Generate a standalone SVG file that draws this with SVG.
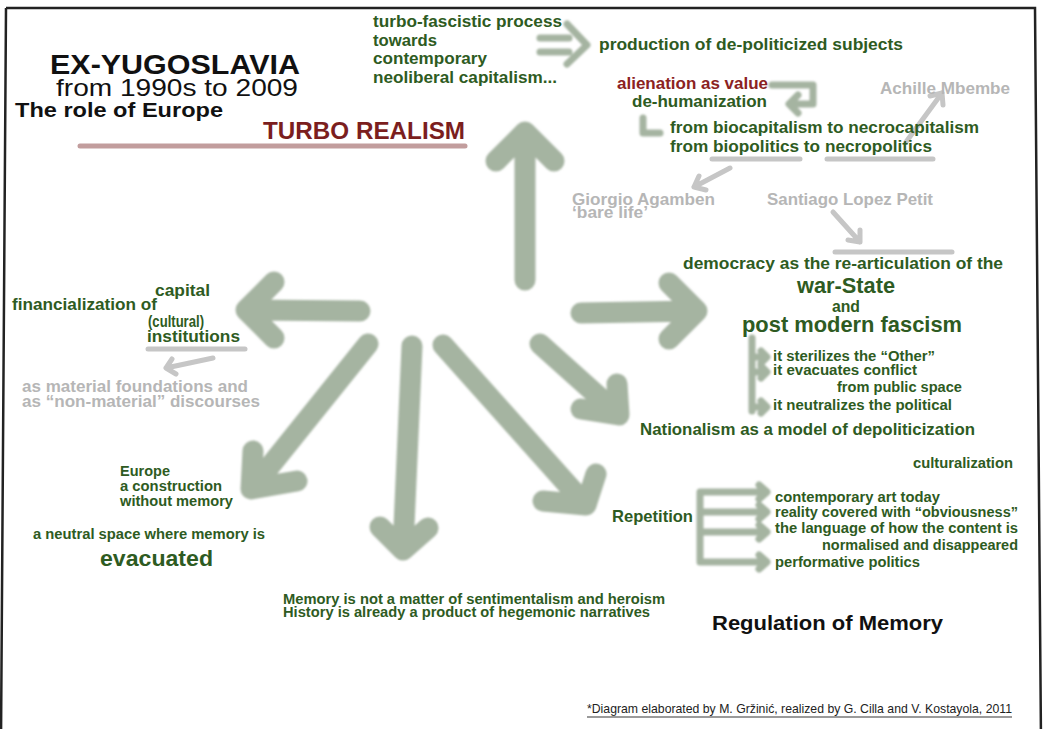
<svg xmlns="http://www.w3.org/2000/svg" width="1045" height="729" viewBox="0 0 1045 729">
<style>
  text { font-family: "Liberation Sans", Arial, Helvetica, sans-serif; }
  .g { font-weight: bold; fill: #2e5b22; font-size: 17px; }
  .gs { font-weight: bold; fill: #2e5b22; font-size: 14.5px; }
  .gy { font-weight: bold; fill: #b6b6b6; font-size: 16px; }
  .blk { fill: #111111; }
  .big { fill: none; stroke: #a5b4a1; stroke-width: 21; stroke-linecap: round; stroke-linejoin: round; }
  .mid { fill: none; stroke: #a5b4a1; stroke-width: 7; stroke-linecap: round; stroke-linejoin: round; }
  .thin { fill: none; stroke: #c6c6c6; stroke-width: 5; stroke-linecap: round; stroke-linejoin: round; }
</style>
<defs>
  <filter id="soft" x="-5%" y="-5%" width="110%" height="110%">
    <feGaussianBlur stdDeviation="0.9"/>
  </filter>
</defs>
<rect width="1045" height="729" fill="#ffffff"/>
<path d="M6,8 L1035,8 L1041,740 M6,8 L1,740" fill="none" stroke="#222" stroke-width="2.5"/>

<g id="connectors">
  <g filter="url(#soft)">
    <path class="big" d="M525,280 L525,132 M496,161 L525,132 L554,161"/>
    <path class="big" d="M360,311 L246,310 M274,282 L246,310 L274,338"/>
    <path class="big" d="M581,313 L696,311 M669,283 L697,311 L669,339"/>
    <path class="big" d="M540,344 L617,413 M617,384 L619,415 L581,409"/>
    <path class="big" d="M443,345 L584,503 M596,474 L586,505 L543,501"/>
    <path class="big" d="M412,346 L403,549 M380,527 L403,550 L428,528"/>
    <path class="big" d="M368,344 L254,486 M253,451 L251,489 L297,481"/>
    <path class="mid" stroke-width="8" d="M540,38 L569,38 M540,52 L569,52 M567,24 L587,45 L567,64"/>
    <path class="mid" d="M772,85 L813,85 L813,104 L790,104 M798,95 L789,104 L798,113"/>
    <path class="mid" d="M643,118 L643,133 L660,133"/>
    <path class="mid" stroke-width="6" d="M752,338 L752,411 M752,357 L764,357 M752,372 L764,372 M752,407 L764,407 M761,351 L767,357 L761,363 M761,366 L767,372 L761,378 M761,401 L767,407 L761,413"/>
    <path class="mid" d="M700,492 L700,562 L762,562 M700,492 L762,492 M700,512 L762,512 M700,532 L762,532 M759,485 L767,492 L759,499 M759,505 L767,512 L759,519 M759,525 L767,532 L759,539 M759,555 L767,562 L759,569"/>
  </g>
  <path d="M80,146 L465,146" fill="none" stroke="#c29d9d" stroke-width="5" stroke-linecap="round"/>
  <path class="thin" d="M712,159 L800,159 M827,159 L933,159"/>
  <path class="thin" d="M906,142 L942,93 M930,96 L942,93 L943,105"/>
  <path class="thin" d="M730,168 L694,187 M699,176 L694,187 L706,190"/>
  <path class="thin" d="M833,212 L860,242 M860,230 L860,242 L848,240"/>
  <path class="thin" d="M835,252 L952,252"/>
  <path class="thin" d="M148,349 L245,349"/>
  <path class="thin" d="M213,358 L166,368 M172,359 L166,368 L176,374"/>
  <path d="M587,717 L1012,717" fill="none" stroke="#9a9a9a" stroke-width="2"/>
</g>

<g id="title">
  <text class="blk" x="50" y="74" font-size="28" font-weight="bold" textLength="250" lengthAdjust="spacingAndGlyphs">EX-YUGOSLAVIA</text>
  <text class="blk" x="56" y="96" font-size="24" textLength="242" lengthAdjust="spacingAndGlyphs">from 1990s to 2009</text>
  <text class="blk" x="15" y="117" font-size="21" font-weight="bold" textLength="208" lengthAdjust="spacingAndGlyphs">The role of Europe</text>
</g>
<g id="turbo-realism">
  <text x="263" y="139" font-size="23" font-weight="bold" fill="#7b1e1e" textLength="202" lengthAdjust="spacingAndGlyphs">TURBO REALISM</text>
</g>

<g id="turbo-fascistic">
  <text class="g" x="373" y="27" textLength="189" lengthAdjust="spacingAndGlyphs">turbo-fascistic process</text>
  <text class="g" x="373" y="46" textLength="64" lengthAdjust="spacingAndGlyphs">towards</text>
  <text class="g" x="373" y="64" textLength="114" lengthAdjust="spacingAndGlyphs">contemporary</text>
  <text class="g" x="373" y="83" textLength="184" lengthAdjust="spacingAndGlyphs">neoliberal capitalism...</text>
</g>
<g id="production">
  <text class="g" x="599" y="50" textLength="304" lengthAdjust="spacingAndGlyphs">production of de-politicized subjects</text>
</g>
<g id="alienation">
  <text class="g" x="617" y="89" style="fill:#8b2222" textLength="151" lengthAdjust="spacingAndGlyphs">alienation as value</text>
  <text class="g" x="632" y="107" textLength="135" lengthAdjust="spacingAndGlyphs">de-humanization</text>
</g>
<g id="necro">
  <text class="g" x="670" y="133" textLength="309" lengthAdjust="spacingAndGlyphs">from biocapitalism to necrocapitalism</text>
  <text class="g" x="670" y="152" textLength="262" lengthAdjust="spacingAndGlyphs">from biopolitics to necropolitics</text>
</g>
<g id="mbembe">
  <text class="gy" x="880" y="94" style="font-size:17px" textLength="130" lengthAdjust="spacingAndGlyphs">Achille Mbembe</text>
</g>
<g id="agamben">
  <text class="gy" x="572" y="205" textLength="143" lengthAdjust="spacingAndGlyphs">Giorgio Agamben</text>
  <text class="gy" x="572" y="218" textLength="76" lengthAdjust="spacingAndGlyphs">‘bare life’</text>
</g>
<g id="petit">
  <text class="gy" x="767" y="205" style="font-size:17px" textLength="166" lengthAdjust="spacingAndGlyphs">Santiago Lopez Petit</text>
</g>
<g id="democracy">
  <text class="g" x="683" y="269" textLength="320" lengthAdjust="spacingAndGlyphs">democracy as the re-articulation of the</text>
  <text class="g" x="797" y="293" style="font-size:22px" textLength="98" lengthAdjust="spacingAndGlyphs">war-State</text>
  <text class="g" x="832" y="312" style="font-size:16px" textLength="28" lengthAdjust="spacingAndGlyphs">and</text>
  <text class="g" x="742" y="332" style="font-size:22px" textLength="220" lengthAdjust="spacingAndGlyphs">post modern fascism</text>
</g>
<g id="fascism-effects">
  <text class="gs" x="773" y="361" textLength="162" lengthAdjust="spacingAndGlyphs">it sterilizes the “Other”</text>
  <text class="gs" x="773" y="375" textLength="144" lengthAdjust="spacingAndGlyphs">it evacuates conflict</text>
  <text class="gs" x="837" y="392" textLength="125" lengthAdjust="spacingAndGlyphs">from public space</text>
  <text class="gs" x="773" y="410" textLength="179" lengthAdjust="spacingAndGlyphs">it neutralizes the political</text>
</g>
<g id="nationalism">
  <text class="g" x="640" y="435" textLength="335" lengthAdjust="spacingAndGlyphs">Nationalism as a model of depoliticization</text>
</g>
<g id="culturalization">
  <text class="gs" x="913" y="468" textLength="100" lengthAdjust="spacingAndGlyphs">culturalization</text>
</g>
<g id="repetition">
  <text class="g" x="612" y="522" style="font-size:16.5px" textLength="81" lengthAdjust="spacingAndGlyphs">Repetition</text>
</g>
<g id="repetition-items">
  <text class="gs" x="775" y="502" textLength="165" lengthAdjust="spacingAndGlyphs">contemporary art today</text>
  <text class="gs" x="775" y="517" textLength="243" lengthAdjust="spacingAndGlyphs">reality covered with “obviousness”</text>
  <text class="gs" x="775" y="533" textLength="243" lengthAdjust="spacingAndGlyphs">the language of how the content is</text>
  <text class="gs" x="822" y="550" textLength="196" lengthAdjust="spacingAndGlyphs">normalised and disappeared</text>
  <text class="gs" x="775" y="567" textLength="145" lengthAdjust="spacingAndGlyphs">performative politics</text>
</g>
<g id="regulation">
  <text class="blk" x="712" y="630" font-size="21" font-weight="bold" textLength="231" lengthAdjust="spacingAndGlyphs">Regulation of Memory</text>
</g>
<g id="memory">
  <text class="g" x="283" y="604" style="font-size:14px" textLength="382" lengthAdjust="spacingAndGlyphs">Memory is not a matter of sentimentalism and heroism</text>
  <text class="g" x="283" y="617" style="font-size:14px" textLength="367" lengthAdjust="spacingAndGlyphs">History is already a product of hegemonic narratives</text>
</g>
<g id="financialization">
  <text class="g" x="155" y="296" textLength="55" lengthAdjust="spacingAndGlyphs">capital</text>
  <text class="g" x="12" y="310" textLength="145" lengthAdjust="spacingAndGlyphs">financialization of</text>
  <text class="g" x="148" y="327" textLength="56" lengthAdjust="spacingAndGlyphs">(cultural)</text>
  <text class="g" x="147" y="342" textLength="93" lengthAdjust="spacingAndGlyphs">institutions</text>
</g>
<g id="material">
  <text class="gy" x="22" y="392" textLength="226" lengthAdjust="spacingAndGlyphs">as material foundations and</text>
  <text class="gy" x="22" y="407" textLength="238" lengthAdjust="spacingAndGlyphs">as “non-material” discourses</text>
</g>
<g id="europe">
  <text class="gs" x="120" y="476">Europe</text>
  <text class="gs" x="120" y="491" textLength="102" lengthAdjust="spacingAndGlyphs">a construction</text>
  <text class="gs" x="120" y="506" textLength="113" lengthAdjust="spacingAndGlyphs">without memory</text>
</g>
<g id="neutral-space">
  <text class="gs" x="33" y="539" textLength="232" lengthAdjust="spacingAndGlyphs">a neutral space where memory is</text>
  <text class="g" x="100" y="566" style="font-size:22px" textLength="113" lengthAdjust="spacingAndGlyphs">evacuated</text>
</g>
<g id="credits">
  <text x="587" y="713" font-size="13.5" fill="#222" textLength="425" lengthAdjust="spacingAndGlyphs">*Diagram elaborated by M. Gržinić, realized by G. Cilla and V. Kostayola, 2011</text>
</g>
</svg>
